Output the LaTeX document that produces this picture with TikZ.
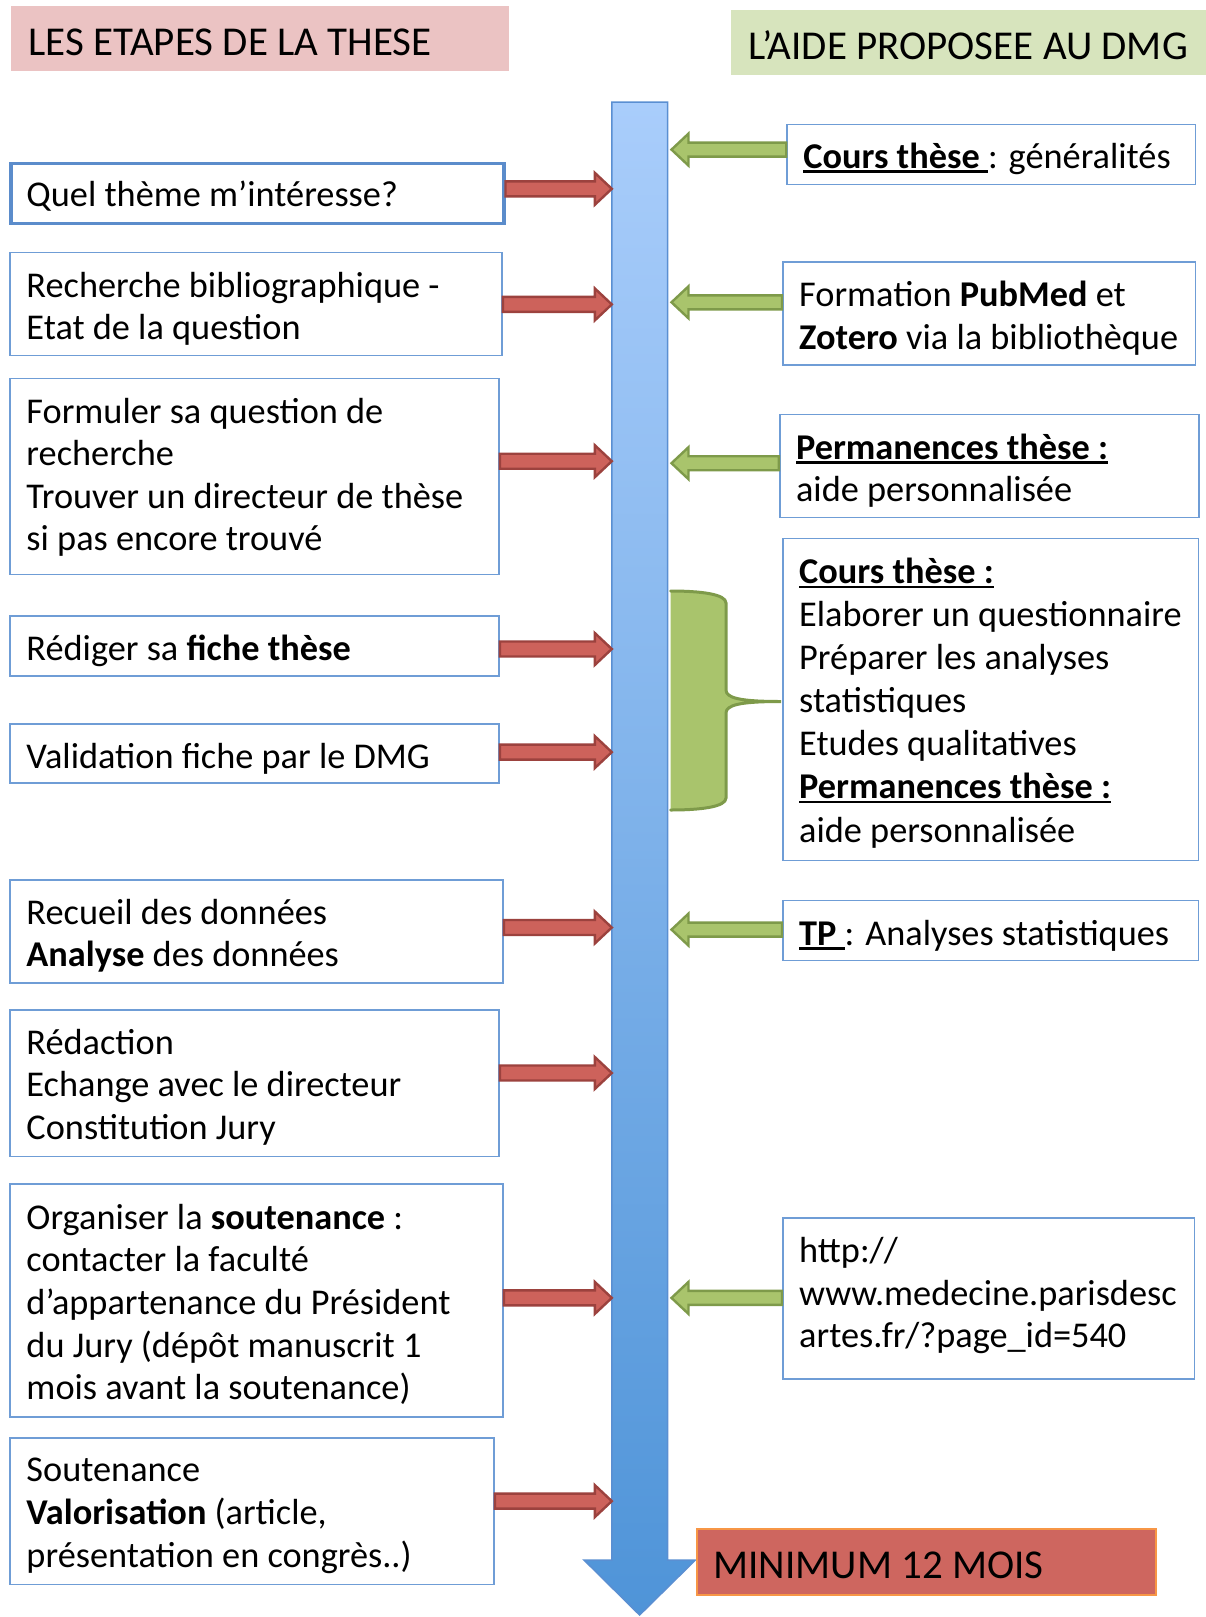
\documentclass[tikz,border=0pt]{standalone}
\usepackage{fontspec}
\setmainfont{Carlito}
\usetikzlibrary{calc}
\definecolor{titlepink}{HTML}{EBC3C3}
\definecolor{titlegreen}{HTML}{D7E4BD}
\definecolor{boxblue}{HTML}{5B8CCB}
\definecolor{boxblue2}{HTML}{6F9DD6}
\definecolor{redfill}{HTML}{CD625B}
\definecolor{redline}{HTML}{9C423E}
\definecolor{greenfill}{HTML}{A9C46C}
\definecolor{greenline}{HTML}{7E9A4A}
\definecolor{minfill}{HTML}{CE665F}
\definecolor{minline}{HTML}{F79646}
\definecolor{shafttop}{HTML}{A9CDFB}
\definecolor{shaftbot}{HTML}{4F94D8}
\definecolor{shaftline}{HTML}{5A8FD2}
\newcommand\ulbox[1]{\setbox0\hbox{#1}\rlap{\rule[-4.5pt]{\wd0}{2.4pt}}\box0}
\newcommand\rarrow[3]{\path[#1] let \p1=(#2), \p2=(#3) in
  (\x1,\y1+7.5pt) -- (\x2-17pt,\y1+7.5pt) -- (\x2-17pt,\y1+16pt) -- (\x2,\y1)
  -- (\x2-17pt,\y1-16pt) -- (\x2-17pt,\y1-7.5pt) -- (\x1,\y1-7.5pt) -- cycle;}
\newcommand\larrow[3]{\path[#1] let \p1=(#2), \p2=(#3) in
  (\x1,\y1+7pt) -- (\x2+17pt,\y1+7pt) -- (\x2+17pt,\y1+16pt) -- (\x2,\y1)
  -- (\x2+17pt,\y1-16pt) -- (\x2+17pt,\y1-7pt) -- (\x1,\y1-7pt) -- cycle;}
\begin{document}
\begin{tikzpicture}[x=1pt,y=-1pt,
  box/.style={draw=boxblue2, line width=1.6pt, fill=white, inner sep=0pt, anchor=north west},
  thickbox/.style={box, draw=boxblue, line width=3.2pt},
  txt/.style={align=left, inner sep=0pt, font=\fontsize{36.3}{42.6}\selectfont, anchor=west},
  titletxt/.style={inner sep=0pt, font=\fontsize{41}{48}\selectfont, anchor=west},
  redarr/.style={fill=redfill, draw=redline, line width=2.4pt},
  greenarr/.style={fill=greenfill, draw=greenline, line width=2.4pt}]
\useasboundingbox (0,0) rectangle (1206,1617);
\fill[white] (0,0) rectangle (1206,1617);

% titles
\node[fill=titlepink, inner sep=0pt, minimum width=498.3pt, minimum height=65pt, anchor=north west] (T1) at (10.3,6.2) {};
\node[titletxt] (T1t) at ([xshift=18pt,yshift=-3pt]T1.west) {LES ETAPES DE LA THESE};
\node[fill=titlegreen, inner sep=0pt, minimum width=475.6pt, minimum height=65pt, anchor=north west] (T2) at (730.4,9.3) {};
\node[titletxt] (T2t) at ([xshift=18pt,yshift=-3pt]T2.west) {L’AIDE PROPOSEE AU DMG};

% big arrow
\coordinate (shaftL) at (611.8,102);
\coordinate (shaftR) at (667.5,102);
\coordinate (gtip) at (671.5,102);
\shade[top color=shafttop, bottom color=shaftbot, draw=shaftline, line width=1.5pt]
  (611.8,102) -- (667.5,102) -- (667.5,1560) -- (695.4,1560) -- (639.6,1615)
  -- (584,1560) -- (611.8,1560) -- cycle;

% brace
\fill[greenfill] (670.6,591) .. controls (700,591) and (726,594) .. (726,603) -- (726,690)
  .. controls (726,698) and (740,701.5) .. (781,701.5)
  .. controls (740,701.5) and (726,705) .. (726,713) -- (726,798)
  .. controls (726,807) and (700,810) .. (670.6,810) -- cycle;
\draw[greenline, line width=3pt, line cap=round] (670.6,591) .. controls (700,591) and (726,594) .. (726,603) -- (726,690)
  .. controls (726,698) and (740,701.5) .. (781,701.5)
  .. controls (740,701.5) and (726,705) .. (726,713) -- (726,798)
  .. controls (726,807) and (700,810) .. (670.6,810);

% left boxes
\node[thickbox, minimum width=493pt, minimum height=60pt] (L1) at (9.3,162) {};
\node[txt] (L1t) at ([xshift=17pt,yshift=-3pt]L1.west) {Quel thème m’intéresse?};
\node[box, minimum width=492pt, minimum height=103pt] (L2) at (9.3,251.7) {};
\node[txt] (L2t) at ([xshift=17pt,yshift=-5pt]L2.west) {Recherche bibliographique -\\Etat de la question};
\node[box, minimum width=489pt, minimum height=196pt] (L3) at (9.3,377.6) {};
\node[txt] (L3t) at ([xshift=17pt,yshift=-1pt]L3.west) {Formuler sa question de\\recherche\\Trouver un directeur de thèse\\si pas encore trouvé};
\node[box, minimum width=489pt, minimum height=60pt] (L4) at (9.3,614.9) {};
\node[txt] (L4t) at ([xshift=17pt,yshift=-5pt]L4.west) {Rédiger sa \textbf{fiche thèse}};
\node[box, minimum width=489pt, minimum height=59pt] (L5) at (9.3,723.2) {};
\node[txt] (L5t) at ([xshift=17pt,yshift=-5pt]L5.west) {Validation fiche par le DMG};
\node[box, minimum width=493pt, minimum height=103pt] (L6) at (9.3,879) {};
\node[txt] (L6t) at ([xshift=17pt,yshift=-4.5pt]L6.west) {Recueil des données\\\textbf{Analyse} des données};
\node[box, minimum width=489pt, minimum height=146.5pt] (L7) at (9.3,1009) {};
\node[txt] (L7t) at ([xshift=17pt,yshift=-4pt]L7.west) {Rédaction\\Echange avec le directeur\\Constitution Jury};
\node[box, minimum width=493pt, minimum height=233pt] (L8) at (9.3,1183.4) {};
\node[txt] (L8t) at ([xshift=17pt,yshift=-3.6pt]L8.west) {Organiser la \textbf{soutenance} :\\contacter la faculté\\d’appartenance du Président\\du Jury (dépôt manuscrit 1\\mois avant la soutenance)};
\node[box, minimum width=484pt, minimum height=146.5pt] (L9) at (9.3,1437.2) {};
\node[txt] (L9t) at ([xshift=17pt,yshift=-4.6pt]L9.west) {Soutenance\\\textbf{Valorisation} (article,\\présentation en congrès..)};

% right boxes
\node[box, minimum width=408.5pt, minimum height=60pt] (R1) at (786.2,123.8) {};
\node[txt] (R1t) at ([xshift=17pt,yshift=-4pt]R1.west) {\ulbox{\textbf{Cours thèse }}: généralités};
\node[box, minimum width=412.7pt, minimum height=103pt] (R2) at (782,261) {};
\node[txt] (R2t) at ([xshift=17pt,yshift=-5pt]R2.west) {Formation \textbf{PubMed} et\\\textbf{Zotero} via la bibliothèque};
\node[box, minimum width=419pt, minimum height=103pt] (R3) at (778.9,413.7) {};
\node[txt] (R3t) at ([xshift=17pt,yshift=-4.6pt]R3.west) {\ulbox{\textbf{Permanences thèse :}}\\aide personnalisée};
\node[box, minimum width=415.8pt, minimum height=322pt] (R4) at (782,537.5) {};
\node[txt, font=\fontsize{36.3}{43.1}\selectfont] (R4t) at ([xshift=17pt,yshift=-3.6pt]R4.west) {\ulbox{\textbf{Cours thèse :}}\\Elaborer un questionnaire\\Préparer les analyses\\statistiques\\Etudes qualitatives\\\ulbox{\textbf{Permanences thèse :}}\\aide personnalisée};
\node[box, minimum width=415.8pt, minimum height=60pt] (R5) at (782,899.6) {};
\node[txt] (R5t) at ([xshift=17pt,yshift=-5pt]R5.west) {\ulbox{\textbf{TP }}: Analyses statistiques};
\node[box, minimum width=411.7pt, minimum height=161pt] (R6) at (782,1217.4) {};
\node[txt] (R6t) at ([xshift=17pt,yshift=3pt]R6.west) {http://\\www.medecine.parisdesc\\artes.fr/?page\_id=540};

% minimum box
\node[fill=minfill, draw=minline, line width=2pt, inner sep=0pt, minimum width=459pt, minimum height=66pt, anchor=north west] (M) at (696.4,1528) {};
\node[titletxt] (Mt) at ([xshift=17pt,yshift=-3pt]M.west) {MINIMUM 12 MOIS};

% red arrows
\rarrow{redarr}{L1.east |- 0,188.8}{shaftL |- 0,188.8}
\rarrow{redarr}{L2.east |- 0,304.4}{shaftL |- 0,304.4}
\rarrow{redarr}{L3.east |- 0,461.2}{shaftL |- 0,461.2}
\rarrow{redarr}{L4.east |- 0,649}{shaftL |- 0,649}
\rarrow{redarr}{L5.east |- 0,752.1}{shaftL |- 0,752.1}
\rarrow{redarr}{L6.east |- 0,927.5}{shaftL |- 0,927.5}
\rarrow{redarr}{L7.east |- 0,1073}{shaftL |- 0,1073}
\rarrow{redarr}{L8.east |- 0,1297.9}{shaftL |- 0,1297.9}
\rarrow{redarr}{L9.east |- 0,1501.1}{shaftL |- 0,1501.1}

% green arrows
\larrow{greenarr}{R1.west |- 0,149.6}{gtip |- 0,149.6}
\larrow{greenarr}{R2.west |- 0,302.3}{gtip |- 0,302.3}
\larrow{greenarr}{R3.west |- 0,463.2}{gtip |- 0,463.2}
\larrow{greenarr}{R5.west |- 0,929.6}{gtip |- 0,929.6}
\larrow{greenarr}{R6.west |- 0,1297.9}{gtip |- 0,1297.9}
\end{tikzpicture}
\end{document}
